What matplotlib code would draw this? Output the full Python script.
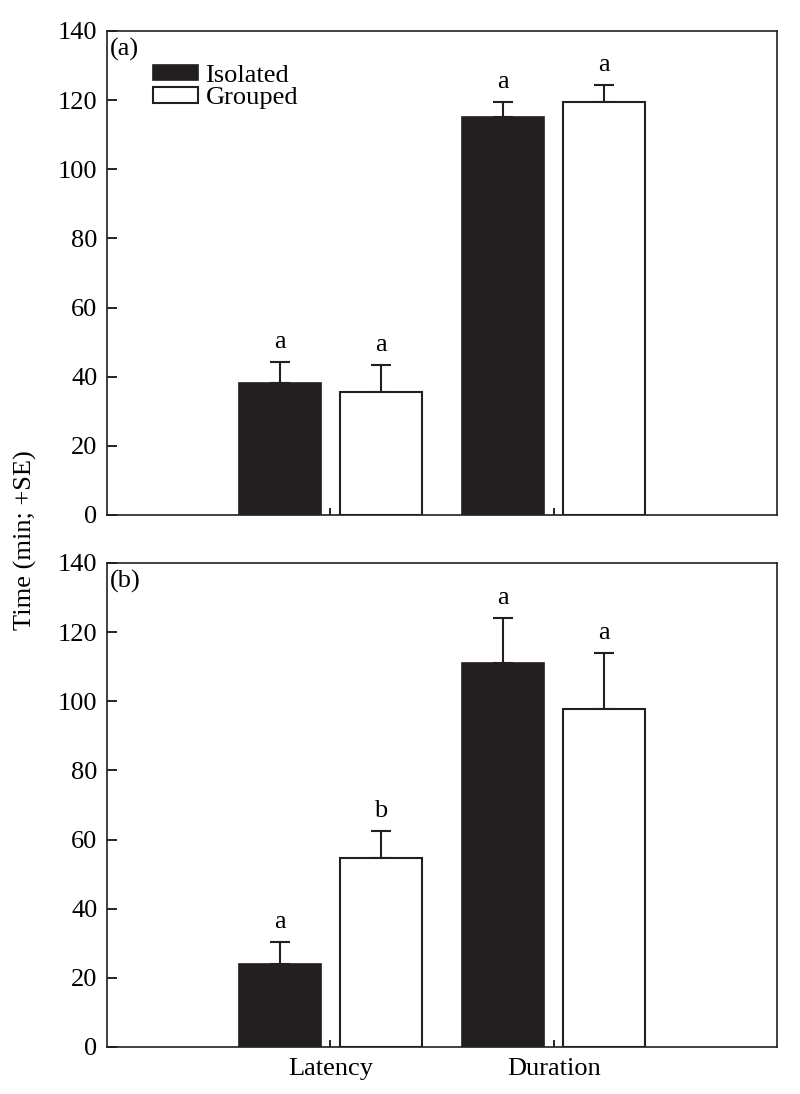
import numpy as np
import matplotlib.pyplot as plt

plt.rcParams['font.family'] = ['Liberation Serif', 'DejaVu Serif']
plt.rcParams['font.size'] = 19

groups = ['Latency', 'Duration']
series = ['Isolated', 'Grouped']
panel_tags = ['(a)', '(b)']

# panel (a)
a_iso = [38.2, 115.2]
a_iso_se = [6.1, 4.3]
a_grp = [35.6, 119.5]
a_grp_se = [7.9, 5.0]
a_letters = [['a', 'a'], ['a', 'a']]   # [isolated, grouped] per group

# panel (b)
b_iso = [24.1, 111.0]
b_iso_se = [6.3, 13.1]
b_grp = [54.8, 97.8]
b_grp_se = [7.8, 16.2]
b_letters = [['a', 'b'], ['a', 'a']]

yticks = [0, 20, 40, 60, 80, 100, 120, 140]

dark = '#231f20'
fig = plt.figure(figsize=(8, 10.94), dpi=100)
ax_a = fig.add_axes([0.134, 0.5293, 0.837, 0.4424])
ax_b = fig.add_axes([0.134, 0.0430, 0.837, 0.4424])

x = np.arange(1, len(groups) + 1)
w = 0.365
off = 0.226

panels = [
    (ax_a, a_iso, a_iso_se, a_grp, a_grp_se, a_letters),
    (ax_b, b_iso, b_iso_se, b_grp, b_grp_se, b_letters),
]

for i, (ax, iso, iso_se, grp, grp_se, letters) in enumerate(panels):
    ax.bar(x - off, iso, w, color=dark, edgecolor=dark, lw=1.2,
           label=series[0], zorder=2)
    ax.bar(x + off, grp, w, color='white', edgecolor=dark, lw=1.5,
           label=series[1], zorder=2)
    ax.errorbar(x - off, iso, yerr=[np.zeros(len(iso)), iso_se], fmt='none',
                ecolor=dark, elinewidth=1.5, capsize=7, capthick=1.5, zorder=1)
    ax.errorbar(x + off, grp, yerr=[np.zeros(len(grp)), grp_se], fmt='none',
                ecolor=dark, elinewidth=1.5, capsize=7, capthick=1.5, zorder=1)

    # significance letters above the error bars
    for j in range(len(groups)):
        ax.annotate(letters[j][0], (x[j] - off, iso[j] + iso_se[j]),
                    xytext=(0, 10), textcoords='offset points',
                    ha='center', va='baseline')
        ax.annotate(letters[j][1], (x[j] + off, grp[j] + grp_se[j]),
                    xytext=(0, 10), textcoords='offset points',
                    ha='center', va='baseline')

    ax.set_xlim(0, 3)
    ax.set_ylim(0, 140)
    ax.set_yticks(yticks)
    ax.set_xticks(x)
    ax.tick_params(axis='y', direction='in', length=7, width=1.2, pad=7)
    ax.tick_params(axis='x', direction='in', length=5, width=1.2, pad=8)
    for s in ax.spines.values():
        s.set_linewidth(1.2)
        s.set_color(dark)
    ax.text(0.004, 0.986, panel_tags[i], transform=ax.transAxes,
            ha='left', va='top')

ax_a.set_xticklabels([])
ax_b.set_xticklabels(groups)

ax_a.legend(loc='upper left', bbox_to_anchor=(0.068, 0.93), frameon=False,
            handlelength=1.7, handleheight=0.53, handletextpad=0.3,
            labelspacing=0.0, borderpad=0, borderaxespad=0)

fig.text(0.032, 0.506, 'Time (min; +SE)', rotation=90, ha='center', va='center')

fig.savefig('out.png', dpi=100)
